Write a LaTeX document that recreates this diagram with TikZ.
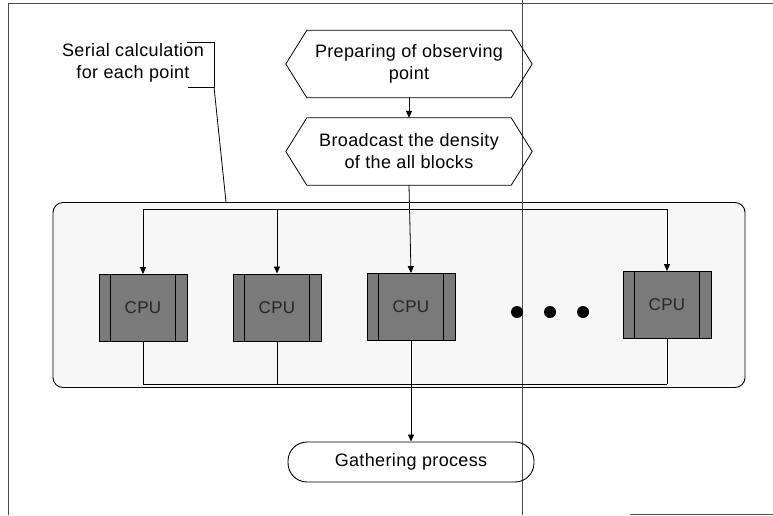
\documentclass[tikz,border=0pt]{standalone}
\usepackage{fontspec}
\setmainfont{Liberation Sans}[LetterSpace=2]
\usetikzlibrary{arrows.meta,shapes.misc,calc}
\begin{document}
\begin{tikzpicture}[x=1pt,y=-1pt,
  every node/.style={font=\fontsize{18}{22}\selectfont, align=center, inner sep=0pt},
  arr/.style={-{Triangle[length=7pt,width=6pt]}, line width=0.8pt},
  ln/.style={line width=0.8pt},
  hexbox/.style={minimum width=246pt, minimum height=67pt},
  cpubox/.style={draw, line width=0.9pt, fill=black!52, minimum width=88pt, minimum height=67pt, text=black!85, font=\fontsize{17}{20}\selectfont},
  scan/.style={line width=0.6pt, black!70}]
\useasboundingbox (0,0) rectangle (773,515);
% scan artefacts
\draw[scan] (8,3) -- (773,3);
\draw[scan] (8,3) -- (8,515);
\draw[scan] (522,0) -- (522,515);
\draw[scan] (630,514) -- (773,514);
% container
\node[draw, line width=0.9pt, rounded corners=10pt, fill=black!3, minimum width=692pt, minimum height=185pt] (cont) at (399,295) {};
\draw[scan] (522,195) -- (522,395);
% hexagons
\node[hexbox] (hex1) at (409,64) {Preparing of observing\\point};
\node[hexbox] (hex2) at (409,151.5) {Broadcast the density\\of the all blocks};
\foreach \h in {hex1,hex2}{
  \draw[ln] (\h.west) -- ([xshift=21pt]\h.north west) -- ([xshift=-21pt]\h.north east) -- (\h.east) -- ([xshift=-21pt]\h.south east) -- ([xshift=21pt]\h.south west) -- cycle;
}
\draw[arr] (hex1.south) -- (hex2.south |- hex2.north);
% serial label
\node (serial) at (133,63) {Serial calculation\\for each point};
\coordinate (bt) at (214,42);
\coordinate (bb) at (214,87);
\coordinate (bend) at (226,202);
\draw[ln] ([xshift=-27pt]bt) -- (bt) -- (bb) -- ([xshift=-26pt]bb);
\draw[ln] (bb) -- (bend);
% CPUs
\node[cpubox] (cpu1) at (143,308) {CPU};
\node[cpubox] (cpu2) at (277,307.5) {CPU};
\node[cpubox] (cpu3) at (411,307) {CPU};
\node[cpubox] (cpu4) at (667,305) {CPU};
\foreach \c in {cpu1,cpu2,cpu3,cpu4}{
  \draw[line width=0.9pt] ([xshift=12pt]\c.north west) -- ([xshift=12pt]\c.south west);
  \draw[line width=0.9pt] ([xshift=-12pt]\c.north east) -- ([xshift=-12pt]\c.south east);
}
% dots
\foreach \x/\n in {517/d1,550/d2,583/d3}{
  \node[circle, fill=black, minimum size=12pt] (\n) at (\x,312) {};
}
% distribution bus
\coordinate (bus) at (0,209);
\draw[ln] (cpu1.north |- bus) -- (cpu4.north |- bus);
\draw[arr] (hex2.south) -- (cpu3.north);
\foreach \c in {cpu1,cpu2,cpu4}{
  \draw[arr] (\c.north |- bus) -- (\c.north);
}
% collector
\coordinate (col) at (0,384);
\node[draw, line width=0.9pt, rounded corners=19pt, minimum width=246pt, minimum height=40pt] (gath) at (411,462) {Gathering process};
\foreach \c in {cpu1,cpu2,cpu4}{
  \draw[ln] (\c.south) -- (\c.south |- col);
}
\draw[ln] (cpu1.south |- col) -- (cpu4.south |- col);
\draw[arr] (cpu3.south) -- (gath.north);
\end{tikzpicture}
\end{document}
